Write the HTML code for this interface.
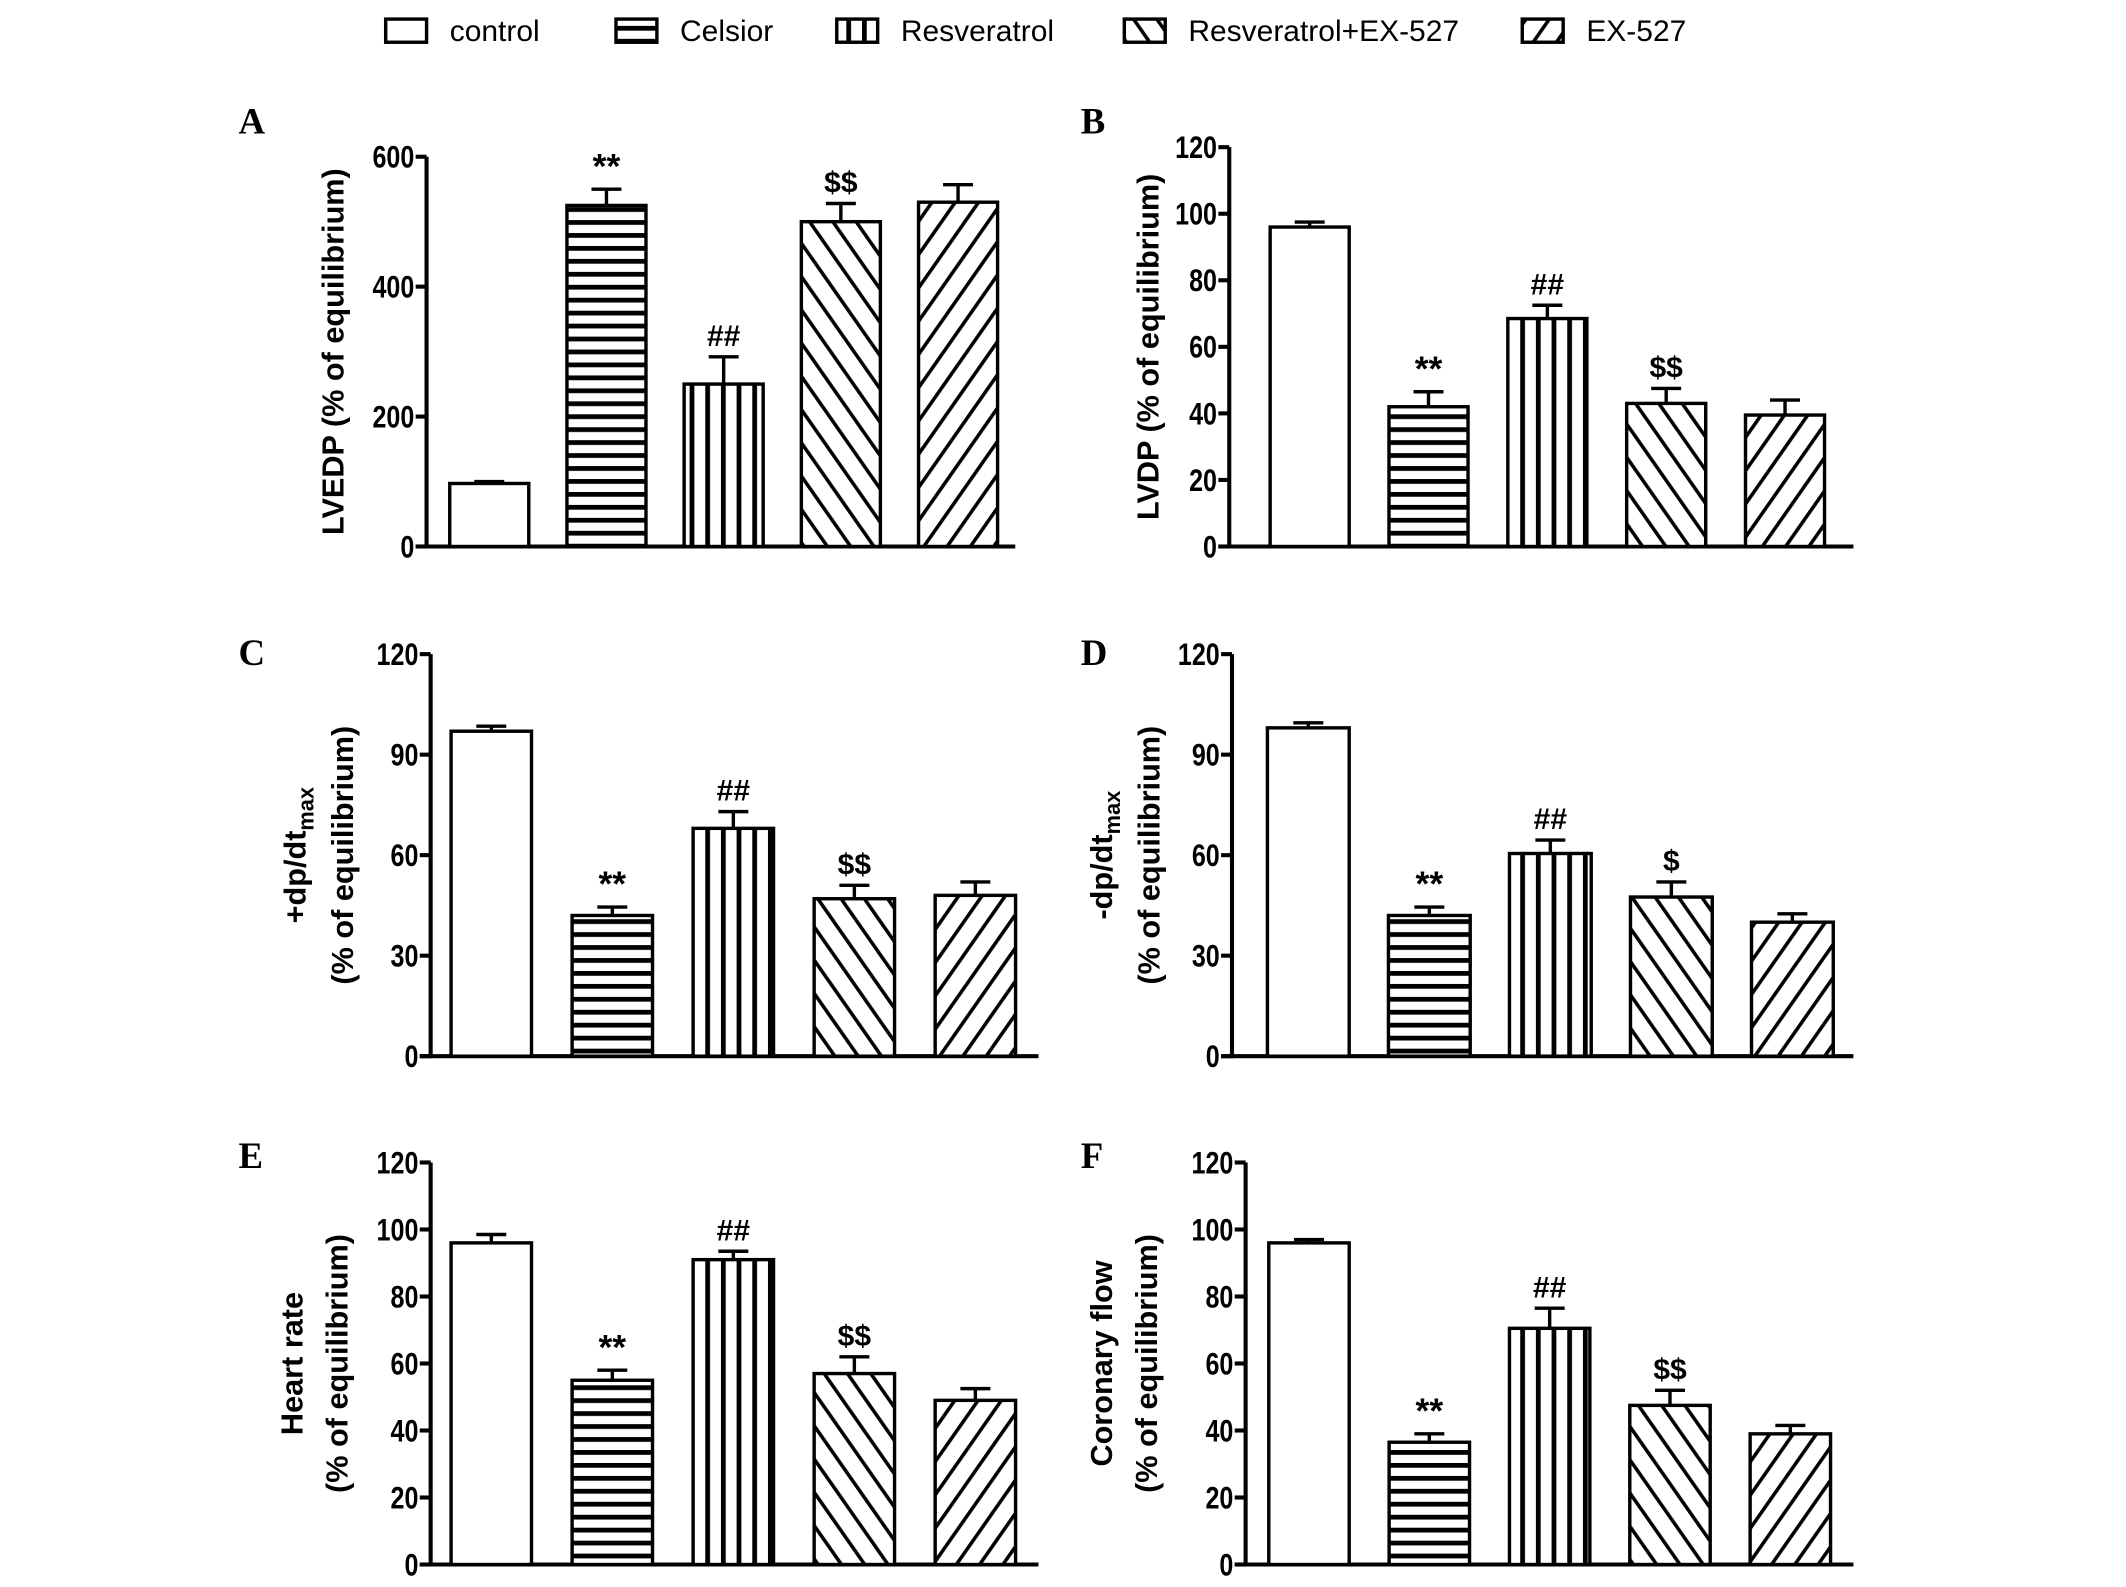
<!DOCTYPE html>
<html><head><meta charset="utf-8"><style>
html,body{margin:0;padding:0;background:#fff;}
svg{display:block;}
text{font-family:"Liberation Sans",sans-serif;}
</style></head>
<body>
<svg id="fig" width="2126" height="1587" viewBox="0 0 1560 1164.5" preserveAspectRatio="none" xmlns="http://www.w3.org/2000/svg">
<defs>
<pattern id="p-h" patternUnits="userSpaceOnUse" width="10" height="9.5"><rect width="10" height="9.5" fill="#fff"/><rect y="0" width="10" height="3.5" fill="#000"/></pattern>
<pattern id="p-v" patternUnits="userSpaceOnUse" width="11.5" height="10"><rect width="11.5" height="10" fill="#fff"/><rect x="0" width="3.5" height="10" fill="#000"/></pattern>
<pattern id="p-b" patternUnits="userSpaceOnUse" width="14" height="14" patternTransform="rotate(-35)"><rect width="14" height="14" fill="#fff"/><rect x="0" width="2.6" height="14" fill="#000"/></pattern>
<pattern id="p-f" patternUnits="userSpaceOnUse" width="14" height="14" patternTransform="rotate(35)"><rect width="14" height="14" fill="#fff"/><rect x="0" width="2.6" height="14" fill="#000"/></pattern>
</defs>
<g id="legend"></g>
<g id="panels"></g>
</svg>
<script>
const categories = ["control","Celsior","Resveratrol","Resveratrol+EX-527","EX-527"];
const fills = ["#fff","url(#p-h)","url(#p-v)","url(#p-b)","url(#p-f)"];
const valsA = [97,525,250,500,530];
const errA = [100,550,292,528,557];
const valsB = [96,42,68.5,43,39.5];
const errB = [97.5,46.5,72.5,47.5,44];
const valsC = [97,42,68,47,48];
const errC = [98.5,44.5,73,51,52];
const valsD = [98,42,60.5,47.5,40];
const errD = [99.5,44.5,64.5,52,42.5];
const valsE = [96,55,91,57,49];
const errE = [98.5,58,93.5,62,52.5];
const valsF = [96,36.5,70.5,47.5,39];
const errF = [97,39,76.5,52,41.5];
const ticksA = [0,200,400,600];
const ticks20 = [0,20,40,60,80,100,120];
const ticks30 = [0,30,60,90,120];
const annA = ["","**","##","$$",""];
const annB = ["","**","##","$$",""];
const annD = ["","**","##","$",""];

const NS="http://www.w3.org/2000/svg";
function mk(tag,attrs,parent){const e=document.createElementNS(NS,tag);for(const k in attrs)e.setAttribute(k,attrs[k]);parent.appendChild(e);return e;}

const lg=document.getElementById('legend');
const legBoxX=[283,452,614,825,1117];
categories.forEach((c,i)=>{
  const r=mk('rect',{x:legBoxX[i],y:14,width:30,height:17,fill:fills[i],stroke:'#000','stroke-width':2.5},lg);
  
  
  const t=mk('text',{x:legBoxX[i]+47,y:30,'font-size':22},lg);
  t.textContent=c;
  
  
});

const panels=[
 {id:'A',vals:valsA,err:errA,ticks:ticksA,max:600,ax:313,top:115,bot:401,right:745,bx:330,step:86,bw:58,lx:175,ly:98,titles:["LVEDP  (% of equilibrium)"],tx:[252],ann:annA},
 {id:'B',vals:valsB,err:errB,ticks:ticks20,max:120,ax:902,top:108,bot:401,right:1360,bx:932,step:87.2,bw:58,lx:793,ly:98,titles:["LVDP (% of equilibrium)"],tx:[850],ann:annB},
 {id:'C',vals:valsC,err:errC,ticks:ticks30,max:120,ax:316,top:480,bot:775,right:762,bx:331,step:88.8,bw:59,lx:175,ly:488,titles:["+dp/dt","(% of equilibrium)"],tx:[224,259],ann:annB,sub:true},
 {id:'D',vals:valsD,err:errD,ticks:ticks30,max:120,ax:904,top:480,bot:775,right:1360,bx:930,step:88.8,bw:60,lx:793,ly:488,titles:["-dp/dt","(% of equilibrium)"],tx:[816,851],ann:annD,sub:true},
 {id:'E',vals:valsE,err:errE,ticks:ticks20,max:120,ax:316,top:853,bot:1148,right:762,bx:331,step:88.8,bw:59,lx:175,ly:857,titles:["Heart rate","(% of equilibrium)"],tx:[222,255],ann:annB},
 {id:'F',vals:valsF,err:errF,ticks:ticks20,max:120,ax:914,top:853,bot:1148,right:1360,bx:931,step:88.3,bw:59,lx:793,ly:857,titles:["Coronary flow","(% of equilibrium)"],tx:[816,849],ann:annB}
];
const pg=document.getElementById('panels');
panels.forEach(p=>{
  const g=mk('g',{},pg);
  
  
  const y=v=>p.bot-(v/p.max)*(p.bot-p.top);
  const L=mk('text',{x:p.lx,y:p.ly,'font-size':27,'font-weight':'bold',style:'font-family:"Liberation Serif",serif'},g);
  L.textContent=p.id;
  
  
  const ya=mk('line',{x1:p.ax,y1:p.top,x2:p.ax,y2:p.bot+1.5,stroke:'#000','stroke-width':3},g);
  
  
  const xa=mk('line',{x1:p.ax-8,y1:p.bot,x2:p.right,y2:p.bot,stroke:'#000','stroke-width':3},g);
  
  
  p.ticks.forEach(t=>{
    mk('line',{x1:p.ax-8,y1:y(t),x2:p.ax,y2:y(t),stroke:'#000','stroke-width':3},g);
    const tt=mk('text',{x:p.ax-9,y:y(t)+8,'font-size':23,'font-weight':'bold','text-anchor':'end',transform:`translate(${p.ax-9},0) scale(0.8,1) translate(${-(p.ax-9)},0)`},g);
    tt.textContent=t;
    
    
  });
  const cy=(p.top+p.bot)/2;
  p.titles.forEach((s,i)=>{
    const t=mk('text',{x:p.tx[i],y:cy,'font-size':22.5,'font-weight':'bold','text-anchor':'middle',transform:`rotate(-90 ${p.tx[i]} ${cy})`},g);
    t.textContent=s;
    if(i===0&&p.sub){const ts=mk('tspan',{'font-size':16,dy:6},t);ts.textContent='max';}
    
    
  });
  p.vals.forEach((v,i)=>{
    const x=p.bx+i*p.step;
    const e=p.err[i];
    const cx=x+p.bw/2;
    const el=mk('line',{x1:cx,y1:y(e),x2:cx,y2:y(v),stroke:'#000','stroke-width':2.5},g);
    
    
    mk('line',{x1:cx-11,y1:y(e),x2:cx+11,y2:y(e),stroke:'#000','stroke-width':2.5},g);
    const r=mk('rect',{x:x,y:y(v),width:p.bw,height:p.bot-y(v),fill:fills[i],stroke:'#000','stroke-width':2.5},g);
    
    
    if(p.ann[i]){
      const a=mk('text',{x:cx,y:y(e)-8,'font-size':p.ann[i]==='**'?26:22,'font-weight':'bold','text-anchor':'middle'},g);
      a.textContent=p.ann[i];
      
      
    }
  });
});
</script>
</body></html>
